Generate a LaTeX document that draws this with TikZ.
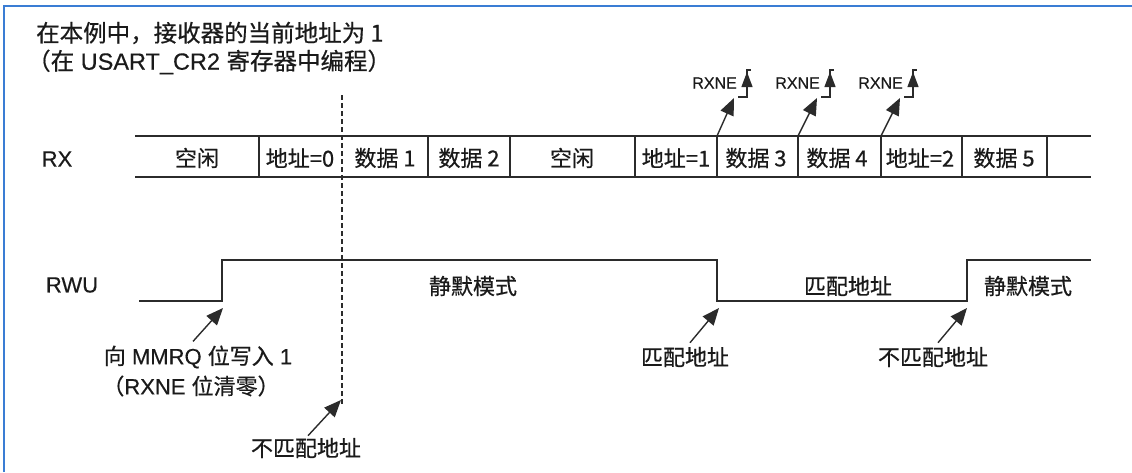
\documentclass[tikz,border=0pt]{standalone}
\usepackage{fontspec}
\setmainfont{Liberation Sans}[FakeBold=0.4]
\newfontfamily\cjk{Noto Sans CJK SC}[FakeBold=0.6]
\usetikzlibrary{arrows.meta}
\definecolor{cerceveMavi}{HTML}{3A7DD4}
\definecolor{hatGri}{HTML}{2B2B2B}
\definecolor{metinSiyah}{HTML}{1A1A1A}

\begin{document}
\begin{tikzpicture}[x=1pt,y=-1pt,
  yazi/.style={font=\fontsize{22}{26}\selectfont,text=metinSiyah,inner sep=0pt},
  kucuk/.style={font=\fontsize{16}{19}\selectfont,text=metinSiyah,inner sep=0pt},
  hat/.style={hatGri,line width=1.5pt},
  ok/.style={-{Triangle[length=17pt,width=14pt]},hatGri,line width=1.4pt}]
\useasboundingbox (0,0) rectangle (1132,472);
\draw[cerceveMavi,line width=1.6pt] (4,472)--(4,6)--(1132,6);
\node[yazi,anchor=west,font=\fontsize{23.5}{28}\selectfont] (baslik1) at (36,33) {\cjk 在本例中，接收器的当前地址为 1};
\node[yazi,anchor=west,font=\fontsize{23.5}{28}\selectfont] (baslik2) at (27,62) {{\cjk （在} USART\_CR2 {\cjk 寄存器中编程）}};
% RX
\node[yazi] (rx) at (57,159) {RX};
\draw[hat] (135,136)--(1091,136) (135,177)--(1091,177);
\foreach \x in {259,428,510,635,717,798,881,962,1047} \draw[hat] (\x,136)--(\x,177);
\foreach \x/\t [count=\i] in {197/空闲,300/地址=0,385/数据 1,469/数据 2,572/空闲,676/地址=1,756/数据 3,837/数据 4,920/地址=2,1004/数据 5}
  \node[yazi] (hucre\i) at (\x,158) {\cjk \t};
\draw[hat,line width=1.2pt,dash pattern=on 5pt off 3pt] (342,95)--(342,405);
\foreach \s/\d [count=\i] in {747/717,830/798,913/881}{
  \node[kucuk,anchor=east] (rxne\i) at (\s-10,83) {RXNE};
  \draw[hat,line width=1.2pt] (\s-9,97)--(\s,97)--(\s,70)--(\s+4,70);
  \draw[ok,line width=1.2pt,-{Triangle[length=15pt,width=11pt]}] (\s,94)--(\s,72);
  \coordinate (alt\i) at (\d,136);
  \coordinate (ust\i) at (\s-13,98);
  \draw[ok] (alt\i)--(ust\i);
}
% RWU
\node[yazi] (rwu) at (72,285) {RWU};
\draw[hat] (139,301)--(222,301)--(222,260)--(717,260)--(717,301)--(967,301)--(967,260)--(1091,260);
\node[yazi] (sessiz1) at (473,286) {\cjk 静默模式};
\node[yazi] (esles) at (848,286) {\cjk 匹配地址};
\node[yazi] (sessiz2) at (1028,286) {\cjk 静默模式};
\node[yazi] (yaz) at (198,357) {{\cjk 向} MMRQ {\cjk 位写入} 1};
\node[yazi] (temizle) at (191,386) {{\cjk （}RXNE {\cjk 位清零）}};
\node[yazi] (eslesti) at (685,357) {\cjk 匹配地址};
\node[yazi] (eslesmedi1) at (933,357) {\cjk 不匹配地址};
\node[yazi] (eslesmedi2) at (306,448) {\cjk 不匹配地址};
\coordinate (yukselis) at (223,308);
\coordinate (dusus) at (719,308);
\coordinate (yukselis2) at (967,308);
\coordinate (kesik) at (341,400);
\draw[ok] ([shift={(-5,-4)}]yaz.north)--(yukselis);
\draw[ok] ([shift={(5,-4)}]eslesti.north)--(dusus);
\draw[ok] ([shift={(5,-4)}]eslesmedi1.north)--(yukselis2);
\draw[ok] ([shift={(2,-2)}]eslesmedi2.north)--(kesik);
\end{tikzpicture}
\end{document}
